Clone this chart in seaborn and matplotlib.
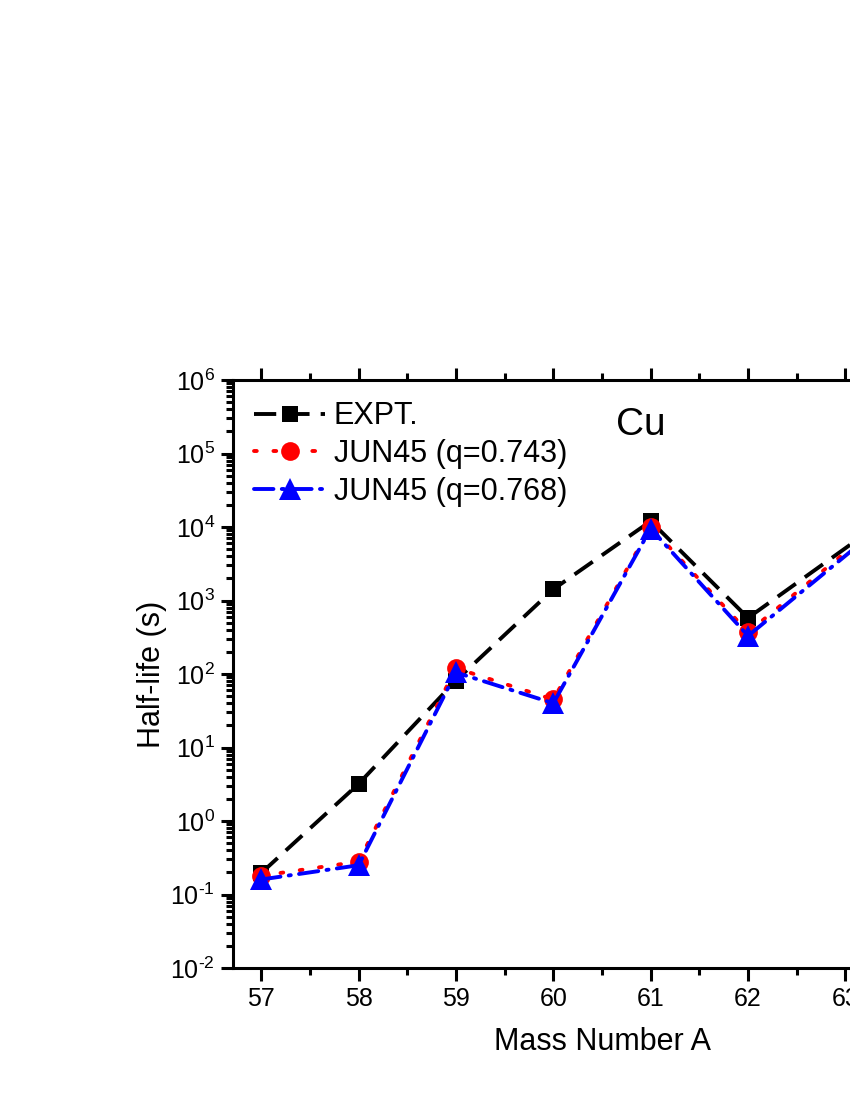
import numpy as np
import pandas as pd
import matplotlib
matplotlib.use('Agg')
import matplotlib.pyplot as plt
import seaborn as sns
from matplotlib.ticker import MultipleLocator, LogLocator, NullFormatter, FuncFormatter

# Half-lives of Cu isotopes (s)
mass_numbers = [57, 58, 59, 60, 61, 62, 64]
expt = [0.196, 3.2, 81.5, 1422, 12000, 580, 45720]
jun45_q743 = [0.18, 0.28, 120, 45, 10000, 370, 55000]
jun45_q768 = [0.16, 0.25, 105, 40, 9500, 330, 50000]
series_labels = ['EXPT.', 'JUN45 (q=0.743)', 'JUN45 (q=0.768)']

sns.set_style('ticks')
plt.rcParams['font.family'] = ['Liberation Sans', 'DejaVu Sans']
plt.rcParams['mathtext.fontset'] = 'custom'
plt.rcParams['mathtext.rm'] = 'Liberation Sans'
plt.rcParams['mathtext.it'] = 'Liberation Sans:italic'
plt.rcParams['axes.unicode_minus'] = False
plt.rcParams['lines.scale_dashes'] = False
plt.rcParams['text.color'] = 'black'
plt.rcParams['axes.labelcolor'] = 'black'

df = pd.DataFrame({'A': mass_numbers, 'expt': expt,
                   'q743': jun45_q743, 'q768': jun45_q768})


def pow10_label(v, pos):
    # hyphen instead of the math minus sign
    e = str(int(round(np.log10(v)))).replace('-', r'\text{-}')
    return r'$\mathdefault{10^{%s}}$' % e


fig = plt.figure(figsize=(8.5, 11), dpi=100)
ax = fig.add_axes([233 / 850, 1 - 968 / 1100, 738 / 850, 588 / 1100])

sns.lineplot(data=df, x='A', y='expt', ax=ax, color='black', marker='s',
             markersize=12, markeredgewidth=0, linewidth=2.8,
             linestyle=(0, (16, 8)), label=series_labels[0])
sns.lineplot(data=df, x='A', y='q743', ax=ax, color='red', marker='o',
             markersize=13.5, markeredgewidth=0, linewidth=2.8,
             linestyle=(0, (2, 12)), dash_capstyle='round', label=series_labels[1])
sns.lineplot(data=df, x='A', y='q768', ax=ax, color='blue', marker='^',
             markersize=16, markeredgewidth=0, linewidth=2.8,
             linestyle=(0, (14, 6, 1.5, 6)), dash_capstyle='round', label=series_labels[2])

ax.set_yscale('log')
ax.set_ylim(1e-2, 1e6)
ax.set_xlim(56.71, 64.29)
ax.xaxis.set_major_locator(MultipleLocator(1))
ax.xaxis.set_minor_locator(MultipleLocator(0.5))
ax.yaxis.set_major_locator(LogLocator(base=10, numticks=20))
ax.yaxis.set_minor_locator(LogLocator(base=10, subs=np.arange(2, 10), numticks=20))
ax.yaxis.set_major_formatter(FuncFormatter(pow10_label))
ax.yaxis.set_minor_formatter(NullFormatter())

for s in ax.spines.values():
    s.set_linewidth(2.2)
    s.set_visible(True)
    s.set_color('black')
ax.tick_params(which='both', direction='out', top=True, right=True,
               width=2.2, labelsize=18, colors='black')
ax.tick_params(which='major', length=9)
ax.tick_params(which='minor', length=5)
ax.tick_params(axis='x', which='major', pad=5)
ax.tick_params(axis='y', which='major', pad=4)

ax.set_xlabel('Mass Number A', fontsize=22, labelpad=11)
ax.set_ylabel('Half-life (s)', fontsize=22, labelpad=2)

ax.text(0.553, 0.923, 'Cu', transform=ax.transAxes, fontsize=28,
        ha='center', va='center')

ax.legend(loc='upper left', frameon=False, fontsize=22, handlelength=2.3,
          handletextpad=0.3, labelspacing=0.25, borderaxespad=0.35,
          borderpad=0.35, bbox_to_anchor=(0.0, 1.0))

fig.savefig('out.png', dpi=100)
